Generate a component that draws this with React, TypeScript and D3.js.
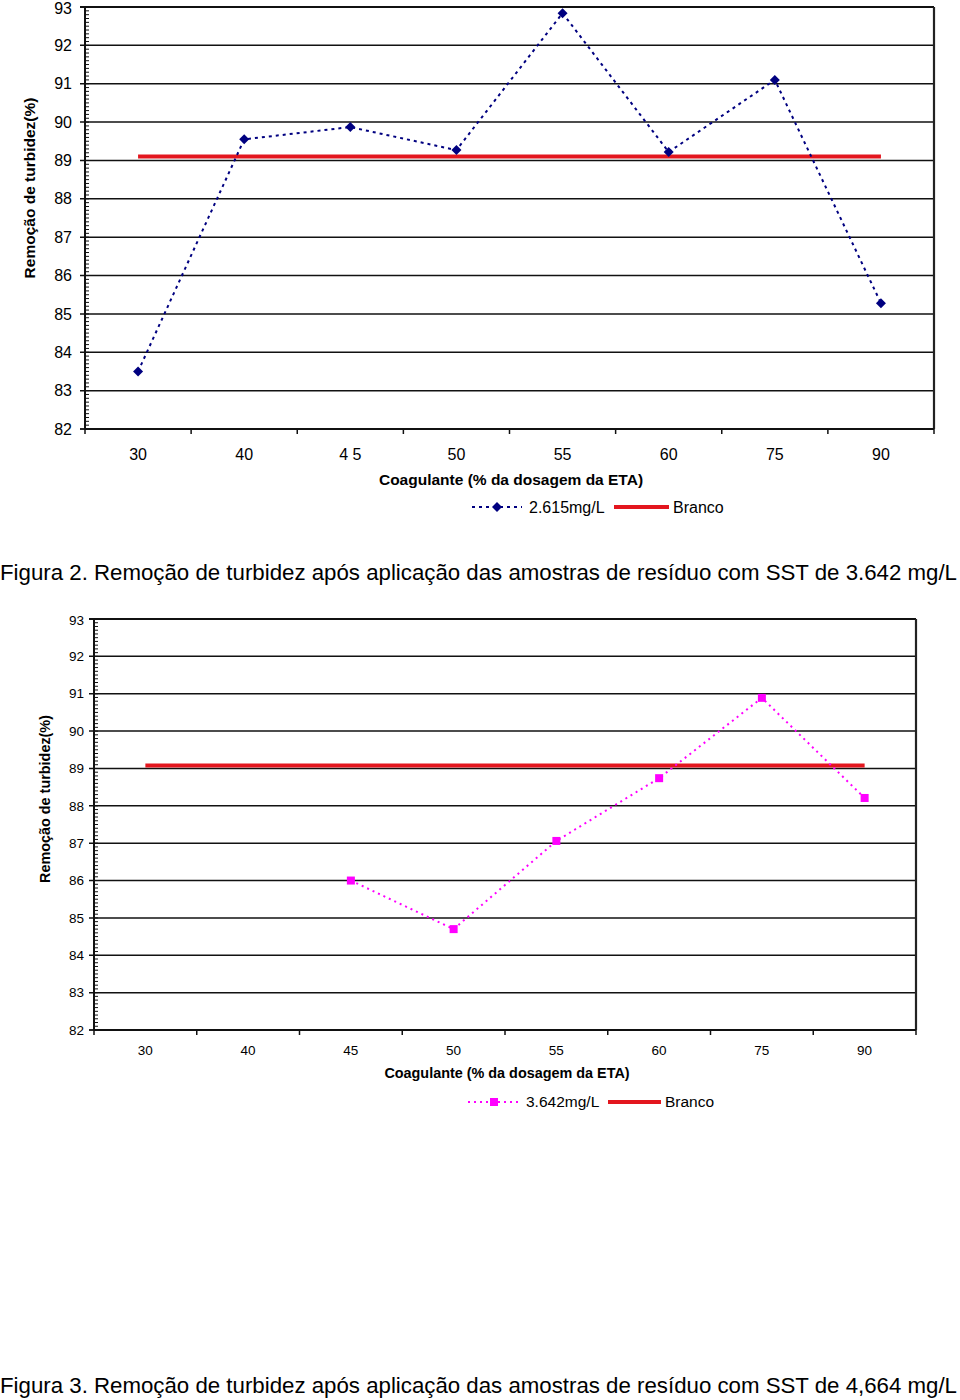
import React from "react";
import * as d3 from "d3";

const categories = ["30", "40", "45", "50", "55", "60", "75", "90"];
const xTickLabels1 = ["30", "40", "4 5", "50", "55", "60", "75", "90"];
const xTickLabels2 = ["30", "40", "45", "50", "55", "60", "75", "90"];
const yTicks = [82, 83, 84, 85, 86, 87, 88, 89, 90, 91, 92, 93];

const series1: (number | null)[] = [83.5, 89.55, 89.87, 89.27, 92.84, 89.22, 91.1, 85.28];
const branco1: number[] = [89.1, 89.1, 89.1, 89.1, 89.1, 89.1, 89.1, 89.1];
const series2: (number | null)[] = [null, null, 86.0, 84.7, 87.06, 88.74, 90.89, 88.21];
const branco2: number[] = [89.08, 89.08, 89.08, 89.08, 89.08, 89.08, 89.08, 89.08];

const yTitle = "Remoção de turbidez(%)";
const xTitle = "Coagulante (% da dosagem da ETA)";
const caption1 = "Figura 2. Remoção de turbidez após aplicação das amostras de resíduo com SST de 3.642 mg/L";
const caption2 = "Figura 3. Remoção de turbidez após aplicação das amostras de resíduo com SST de 4,664 mg/L";

const FONT = "'Liberation Sans', Arial, Helvetica, sans-serif";
const RED = "#e3161e";

type ChartProps = {
  left: number; right: number; top: number; bottom: number;
  tickFont: number; titleFont: number; legendFont: number;
  tickLabelX: number; xLabelY: number; xTitleY: number;
  legendY: number; yTitleX: number; yTitleY: number;
  series: (number | null)[]; branco: number[]; xLabels: string[];
  color: string; marker: "diamond" | "square"; dash: string; seriesName: string;
  legend: { l0: number; l1: number; t: number; r0: number; r1: number; b: number };
  xTitleX: number; minorStep: number;
};

function Chart(p: ChartProps) {
  const x = d3.scaleBand<string>().domain(categories).range([p.left, p.right]).padding(0);
  const y = d3.scaleLinear().domain([82, 93]).range([p.bottom, p.top]);
  const cx = (c: string) => (x(c) as number) + x.bandwidth() / 2;
  const minor = d3.range(82, 93.0001, p.minorStep);
  const pts = categories
    .map((c, i) => ({ c, v: p.series[i] }))
    .filter((d) => d.v !== null) as { c: string; v: number }[];
  const line = d3.line<{ c: string; v: number }>().x((d) => cx(d.c)).y((d) => y(d.v));
  const bLine = d3.line<number>().x((_, i) => cx(categories[i])).y((d) => y(d));
  const boundaries = d3.range(0, categories.length + 1).map((i) => p.left + i * x.bandwidth());
  const mk = (px: number, py: number, key: any) =>
    p.marker === "diamond" ? (
      <path key={key} d={`M${px},${py - 5}L${px + 5},${py}L${px},${py + 5}L${px - 5},${py}Z`} fill={p.color} />
    ) : (
      <rect key={key} x={px - 4} y={py - 4} width={8} height={8} fill={p.color} />
    );
  const lg = p.legend;
  return (
    <g fontFamily={FONT} fill="#000">
      {yTicks.slice(1, -1).map((t) => (
        <line key={"g" + t} x1={p.left - 5} x2={p.right} y1={y(t)} y2={y(t)} stroke="#111" strokeWidth={1.5} />
      ))}
      <line x1={p.left - 5} x2={p.right} y1={y(93)} y2={y(93)} stroke="#111" strokeWidth={1.8} />
      <line x1={p.right} x2={p.right} y1={p.top} y2={p.bottom} stroke="#222" strokeWidth={2.2} />
      {minor.map((t, i) => (
        <line key={"m" + i} x1={p.left} x2={p.left + 4} y1={y(t)} y2={y(t)} stroke="#111" strokeWidth={1} />
      ))}
      <line x1={p.left - 5} x2={p.left} y1={y(82)} y2={y(82)} stroke="#111" strokeWidth={1.8} />
      <line x1={p.left} x2={p.left} y1={p.top} y2={p.bottom} stroke="#111" strokeWidth={2} />
      <line x1={p.left} x2={p.right} y1={p.bottom} y2={p.bottom} stroke="#111" strokeWidth={2} />
      {boundaries.map((b, i) => (
        <line key={"xt" + i} x1={b} x2={b} y1={p.bottom} y2={p.bottom + 5} stroke="#111" strokeWidth={1.5} />
      ))}
      <g fontSize={p.tickFont}>
        {yTicks.map((t) => (
          <text key={"yl" + t} x={p.tickLabelX} y={Math.max(y(t), p.top + 1)} dy="0.35em" textAnchor="end">{t}</text>
        ))}
        {categories.map((c, i) => (
          <text key={"xl" + c} x={cx(c)} y={p.xLabelY} textAnchor="middle">{p.xLabels[i]}</text>
        ))}
      </g>
      <g fontSize={p.titleFont} fontWeight="bold">
        <text x={p.xTitleX} y={p.xTitleY} textAnchor="middle">{xTitle}</text>
        <text transform={`translate(${p.yTitleX},${p.yTitleY}) rotate(-90)`} textAnchor="middle" dy="0.35em">{yTitle}</text>
      </g>
      <path d={bLine(p.branco) as string} stroke={RED} strokeWidth={4} fill="none" />
      <path d={line(pts) as string} stroke={p.color} strokeWidth={2} strokeDasharray={p.dash} fill="none" />
      {pts.map((d, i) => mk(cx(d.c), y(d.v), "p" + i))}
      <g fontSize={p.legendFont}>
        <line x1={lg.l0} x2={lg.l1} y1={p.legendY} y2={p.legendY} stroke={p.color} strokeWidth={2} strokeDasharray={p.dash} />
        {mk((lg.l0 + lg.l1) / 2, p.legendY, "lgm")}
        <text x={lg.t} y={p.legendY} dy="0.35em">{p.seriesName}</text>
        <line x1={lg.r0} x2={lg.r1} y1={p.legendY} y2={p.legendY} stroke={RED} strokeWidth={4} />
        <text x={lg.b} y={p.legendY} dy="0.35em">Branco</text>
      </g>
    </g>
  );
}

export default function App() {
  return (
    <svg width={960} height={1400} style={{ position: "absolute", left: 0, top: 0, background: "#fff" }}>
      <rect width={960} height={1400} fill="#fff" />
      <Chart
        left={85} right={934} top={7} bottom={429} tickFont={16} titleFont={15.5} legendFont={16}
        tickLabelX={72}
        xLabelY={460} xTitleY={485} xTitleX={511} legendY={507} yTitleX={30} yTitleY={188}
        series={series1} branco={branco1} xLabels={xTickLabels1}
        color="#000080" marker="diamond" dash="3,4" seriesName="2.615mg/L"
        legend={{ l0: 472, l1: 522, t: 529, r0: 614, r1: 669, b: 673 }} minorStep={0.1}
      />
      <text x={0} y={580} fontFamily={FONT} fontSize={22} textLength={957} lengthAdjust="spacingAndGlyphs">{caption1}</text>
      <Chart
        left={94} right={916} top={619} bottom={1030} tickFont={13.5} titleFont={14.4} legendFont={15.5}
        tickLabelX={84}
        xLabelY={1055} xTitleY={1078} xTitleX={507} legendY={1102} yTitleX={45} yTitleY={799}
        series={series2} branco={branco2} xLabels={xTickLabels2}
        color="#ff00ff" marker="square" dash="2,4" seriesName="3.642mg/L"
        legend={{ l0: 468, l1: 520, t: 526, r0: 608, r1: 661, b: 665 }} minorStep={0.1}
      />
      <text x={0} y={1393} fontFamily={FONT} fontSize={22} textLength={957} lengthAdjust="spacingAndGlyphs">{caption2}</text>
    </svg>
  );
}
